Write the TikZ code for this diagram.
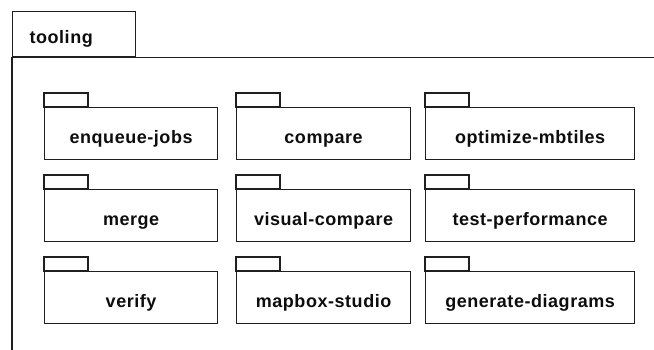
\documentclass[tikz,border=0pt]{standalone}
\usepackage{fontspec}
\setmainfont{Liberation Sans}[BoldFont={Liberation Sans Bold},LetterSpace=3]
\begin{document}
\begin{tikzpicture}[x=1pt,y=-1pt,
  line/.style={draw=black!88,line width=1.2pt},
  label/.style={font=\fontsize{18}{20}\selectfont\bfseries,text=black!95},
  pkgbody/.style={line,label,rectangle,anchor=north west,inner sep=0pt,
    minimum height=52pt,text height=20pt,text depth=0pt},
  narrowpkg/.style={pkgbody,minimum width=173pt},
  midpkg/.style={pkgbody,minimum width=174pt},
  widepkg/.style={pkgbody,minimum width=209pt}]
\useasboundingbox (0,0) rectangle (654,349);
\clip (0,0) rectangle (654,349);
\fill[white] (0,0) rectangle (654,349);

% outer package frame
\node[line,label,rectangle,anchor=north west,inner xsep=17pt,inner ysep=0pt,
  minimum width=123pt,minimum height=45pt,text width=89pt,align=left,
  text height=18.4pt,text depth=0pt]
  (tooling) at (12,11) {tooling};
\draw[line] (tooling.south west) -- ++(0,400);
\draw[line] (tooling.south west) -- ++(700,0);

% contained packages
\node[narrowpkg] (enqueue)  at (44,107)  {enqueue-jobs};
\node[midpkg]    (compare)  at (236,107) {compare};
\node[widepkg]   (optimize) at (425,107) {optimize-mbtiles};
\node[narrowpkg] (merge)    at (44,189)  {merge};
\node[midpkg]    (visual)   at (236,189) {visual-compare};
\node[widepkg]   (testperf) at (425,189) {test-performance};
\node[narrowpkg] (verify)   at (44,271)  {verify};
\node[midpkg]    (mapbox)   at (236,271) {mapbox-studio};
\node[widepkg]   (gendiag)  at (425,271) {generate-diagrams};

% package tabs
\foreach \p in {enqueue,compare,optimize,merge,visual,testperf,verify,mapbox,gendiag}
  \draw[line] (\p.north west) rectangle ++(44,-14);
\end{tikzpicture}
\end{document}
